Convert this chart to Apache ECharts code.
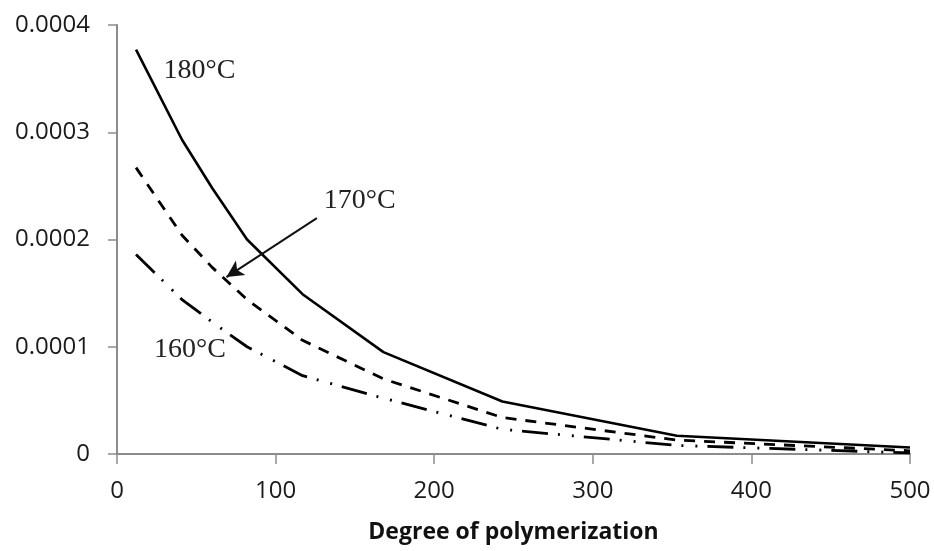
<!DOCTYPE html>
<html>
<head>
<meta charset="utf-8">
<script src="https://cdn.jsdelivr.net/npm/echarts@6/dist/echarts.min.js"></script>
<style>
html, body { margin: 0; padding: 0; background: #fff; }
#chart { width: 934px; height: 551px; }
</style>
</head>
<body>
<div id="chart"></div>
<script>
// degree of polymerization (x) shared by the three curves
var dp = [12, 41, 60, 82, 117, 168, 243, 353, 500];
var t180 = [0.000377, 0.000293, 0.000248, 0.000200, 0.000149, 0.000095, 0.000049, 0.000017, 0.000006];
var t170 = [0.000267, 0.000204, 0.000174, 0.000144, 0.000106, 0.000070, 0.000034, 0.000013, 0.000003];
var t160 = [0.000186, 0.000144, 0.000123, 0.000100, 0.000073, 0.000052, 0.000023, 0.000008, 0.000001];

var xTicks = [0, 100, 200, 300, 400, 500];
var yTicks = [0, 0.0001, 0.0002, 0.0003, 0.0004];

// annotation anchors, in data units
var label180 = [52, 0.000357];
var label170 = [153, 0.000236];
var label160 = [46, 0.000097];
var arrow170 = [[126, 0.000220], [69, 0.000165]];

var myChart = echarts.init(document.getElementById('chart'));

var pair = function(ys){
    return dp.map(function(x, i){ return [x, ys[i]]; });
};

var tagStyle = {
    fontFamily: 'Liberation Serif',
    fontSize: 28,
    color: '#222'
};

var tag = function(pos, text){
    return {
        symbol: 'circle',
        symbolSize: 0,
        silent: true,
        data: [{
            coord: pos,
            label: Object.assign({ show: true, position: 'inside', formatter: text }, tagStyle)
        }]
    };
};

var axisGray = '#8c8c8c';

var option = {
    animation: false,
    backgroundColor: '#fff',
    grid: { left: 117, right: 24, top: 25, bottom: 97 },
    xAxis: {
        type: 'value',
        min: xTicks[0],
        max: xTicks[xTicks.length - 1],
        interval: 100,
        name: 'Degree of polymerization',
        nameLocation: 'middle',
        nameGap: 67,
        nameTextStyle: { fontFamily: 'Open Sans', fontWeight: 'bold', fontSize: 23, color: '#111' },
        axisLine: { lineStyle: { color: axisGray, width: 2 } },
        axisTick: { show: true, length: 10, lineStyle: { color: axisGray, width: 1.5 } },
        axisLabel: { margin: 25, fontFamily: 'Open Sans', fontSize: 24, color: '#1a1a1a' },
        splitLine: { show: false }
    },
    yAxis: {
        type: 'value',
        min: yTicks[0],
        max: yTicks[yTicks.length - 1],
        interval: 0.0001,
        axisLine: { show: true, lineStyle: { color: axisGray, width: 2 } },
        axisTick: { show: true, length: 9, lineStyle: { color: axisGray, width: 1.5 } },
        axisLabel: {
            margin: 27,
            fontFamily: 'Open Sans',
            fontSize: 24,
            color: '#1a1a1a',
            formatter: function(v){ return v === 0 ? '0' : v.toFixed(4); }
        },
        splitLine: { show: false }
    },
    series: [
        {
            name: '180°C',
            type: 'line',
            data: pair(t180),
            showSymbol: false,
            lineStyle: { color: '#000', width: 2.6 },
            markPoint: tag(label180, '180°C')
        },
        {
            name: '170°C',
            type: 'line',
            data: pair(t170),
            showSymbol: false,
            lineStyle: { color: '#000', width: 2.8, type: [11, 9] },
            markPoint: tag(label170, '170°C'),
            markLine: {
                silent: true,
                symbol: ['none', 'arrow'],
                symbolSize: [13, 17],
                label: { show: false },
                lineStyle: { color: '#111', width: 2, type: 'solid' },
                data: [[{ coord: arrow170[0] }, { coord: arrow170[1] }]]
            }
        },
        {
            name: '160°C',
            type: 'line',
            data: pair(t160),
            showSymbol: false,
            lineStyle: { color: '#000', width: 2.8, type: [26, 10, 2, 12, 2, 10] },
            markPoint: tag(label160, '160°C')
        }
    ]
};

myChart.setOption(option);
</script>
</body>
</html>
